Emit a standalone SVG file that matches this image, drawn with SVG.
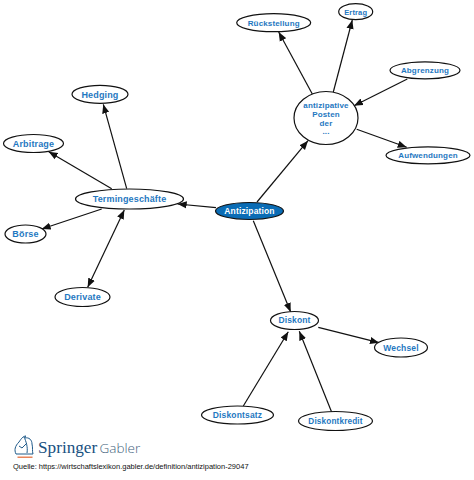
<svg xmlns="http://www.w3.org/2000/svg" width="474" height="480" viewBox="0 0 474 480">
<style>
.n ellipse{fill:#fff;stroke:#111;stroke-width:1.2}
.n text{font-family:"Liberation Sans",Arial,sans-serif;font-weight:bold;font-size:9px;fill:#1f78c1;text-anchor:middle;letter-spacing:.15px}
#connectors line{stroke:#111;stroke-width:1.2;marker-end:url(#a)}
</style>
<defs><marker id="a" viewBox="0 0 10 8" markerUnits="userSpaceOnUse" markerWidth="9" markerHeight="8" refX="10" refY="4" orient="auto-start-reverse"><path d="M0 0L10 4L0 8z" fill="#111"/></marker></defs>
<rect width="474" height="480" fill="#fff"/>
<g id="connectors">
<line x1="257" y1="202" x2="308" y2="140.7"/>
<line x1="312.3" y1="94" x2="278.7" y2="32"/>
<line x1="333.3" y1="92" x2="352.3" y2="20"/>
<line x1="407.3" y1="79" x2="354" y2="105.7"/>
<line x1="356.7" y1="129.3" x2="406.7" y2="147.3"/>
<line x1="216" y1="207.7" x2="177.7" y2="204"/>
<line x1="126.7" y1="188.7" x2="103.3" y2="104.3"/>
<line x1="111.7" y1="188.7" x2="48.7" y2="151.7"/>
<line x1="101.7" y1="209" x2="41.7" y2="229"/>
<line x1="87.7" y1="287.3" x2="124.3" y2="210" style="marker-start:url(#a)"/>
<line x1="253.3" y1="220.7" x2="290.7" y2="312"/>
<line x1="318.3" y1="327.3" x2="379" y2="342.7"/>
<line x1="243.3" y1="406" x2="288.3" y2="331.7"/>
<line x1="331.7" y1="412.3" x2="299.3" y2="331.3"/>
</g>
<g id="n-antizipation" class="n"><ellipse cx="249.5" cy="211" rx="34" ry="8.5" style="fill:#0a6cb5"/><text x="249.5" y="214" style="fill:#fff;font-size:8.5px">Antizipation</text></g>
<g id="n-posten" class="n"><ellipse cx="326" cy="118" rx="32" ry="26.5"/><text x="326" y="108" style="font-size:8px">antizipative</text><text x="326" y="117" style="font-size:8px">Posten</text><text x="326" y="125.5" style="font-size:8px">der</text><text x="326" y="134" style="font-size:8px">...</text></g>
<g id="n-rueckstellung" class="n"><ellipse cx="273.7" cy="22.7" rx="37" ry="9"/><text x="273.7" y="25.5" style="font-size:8px">Rückstellung</text></g>
<g id="n-ertrag" class="n"><ellipse cx="355.7" cy="11.7" rx="17" ry="8"/><text x="355.7" y="14.5" style="font-size:7.5px">Ertrag</text></g>
<g id="n-abgrenzung" class="n"><ellipse cx="425" cy="70.3" rx="35" ry="8.5"/><text x="425" y="73.2" style="font-size:8px">Abgrenzung</text></g>
<g id="n-aufwendungen" class="n"><ellipse cx="428" cy="155.3" rx="42" ry="8.5"/><text x="428" y="158.2" style="font-size:8px">Aufwendungen</text></g>
<g id="n-termingeschaefte" class="n"><ellipse cx="129.5" cy="199" rx="54" ry="10"/><text x="129.5" y="202.2">Termingeschäfte</text></g>
<g id="n-hedging" class="n"><ellipse cx="100" cy="94.3" rx="28" ry="9"/><text x="100" y="97.5">Hedging</text></g>
<g id="n-arbitrage" class="n"><ellipse cx="33.5" cy="143.5" rx="30" ry="9"/><text x="33.5" y="146.7">Arbitrage</text></g>
<g id="n-boerse" class="n"><ellipse cx="25.5" cy="234" rx="20.5" ry="9"/><text x="25.5" y="237.2">Börse</text></g>
<g id="n-derivate" class="n"><ellipse cx="82.5" cy="297" rx="27.5" ry="9.5"/><text x="82.5" y="300.2">Derivate</text></g>
<g id="n-diskont" class="n"><ellipse cx="294.5" cy="320.5" rx="24" ry="9"/><text x="294.5" y="323.3" style="font-size:8.5px">Diskont</text></g>
<g id="n-wechsel" class="n"><ellipse cx="401" cy="347.5" rx="26.5" ry="9.5"/><text x="401" y="350.5" style="font-size:8.5px">Wechsel</text></g>
<g id="n-diskontsatz" class="n"><ellipse cx="237.5" cy="415" rx="36" ry="9"/><text x="237.5" y="417.8" style="font-size:8.5px">Diskontsatz</text></g>
<g id="n-diskontkredit" class="n"><ellipse cx="335.5" cy="421" rx="37" ry="9.5"/><text x="335.5" y="424" style="font-size:8.2px">Diskontkredit</text></g>
<g id="logo">
<path d="M16 454C14 450 15 446 19 442C21 439 23 436 26 436C25 437 25 437 25 438C29 437 32 440 32 444C33 448 32 451 33 454Z M19 446L22 448L27 443 M24 437C26 441 28 447 27 453" fill="none" stroke="#1f5a8a" stroke-width="1"/>
<rect x="17.5" y="456.5" width="15" height="1.5" fill="#e8845a"/>
<text x="38" y="453" style="font-family:'Liberation Serif',serif;font-size:17.2px;fill:#17507f">Springer</text>
<text x="99.5" y="453" style="font-family:'Open Sans',sans-serif;font-weight:300;font-size:13.5px;fill:#3f5f7c">Gabler</text>
</g>
<text x="13" y="469" style="font-family:'Liberation Sans',Arial,sans-serif;font-size:7.5px;fill:#111">Quelle: https://wirtschaftslexikon.gabler.de/definition/antizipation-29047</text>
</svg>
